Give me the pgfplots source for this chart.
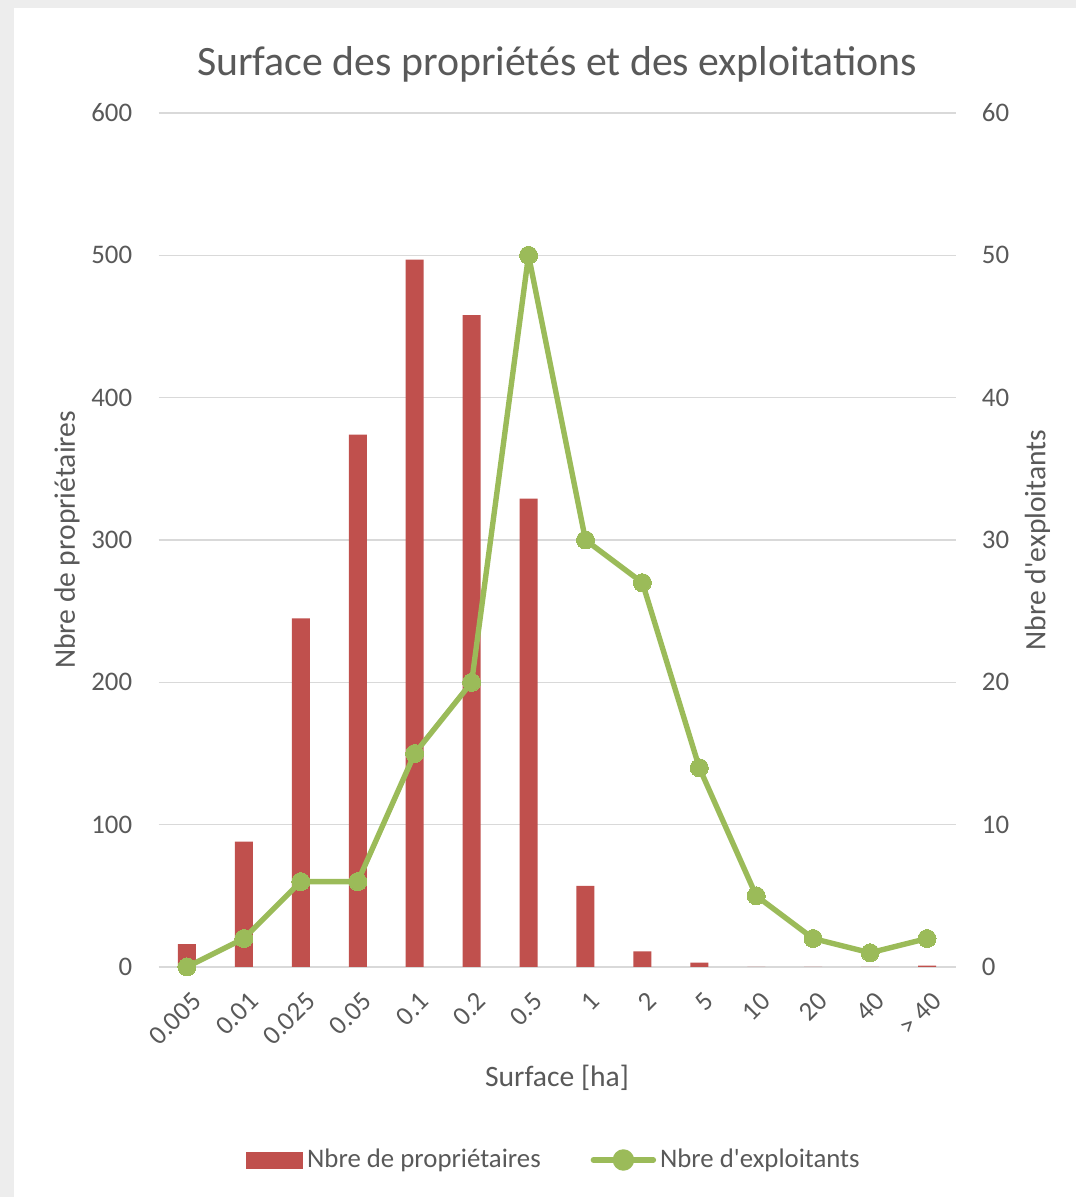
\documentclass[border=0pt]{standalone}
\usepackage{pgfplots}
\pgfplotsset{compat=1.18}
\usepackage{fontspec}
\setmainfont{Carlito}
\definecolor{barred}{HTML}{C0504D}
\definecolor{lgreen}{HTML}{9BBB59}
\definecolor{txt}{HTML}{595959}
\definecolor{gridc}{HTML}{D9D9D9}
\begin{document}
\begin{tikzpicture}
\fill[black!7] (0pt,0pt) rectangle (538pt,598.5pt);
\fill[white] (7pt,0pt) rectangle (538pt,594.5pt);
\path[use as bounding box] (0pt,0pt) rectangle (538pt,598.5pt);
\begin{axis}[
  at={(79.25pt,115pt)}, anchor=south west,
  scale only axis, width=398.5pt, height=427pt,
  xmin=-0.5, xmax=13.5, ymin=0, ymax=600,
  ytick={0,100,...,600},
  xtick={0,...,13},
  xticklabels={0.005,0.01,0.025,0.05,0.1,0.2,0.5,1,2,5,10,20,40,> 40},
  axis line style={draw=none},
  major tick length=0pt,
  ymajorgrids, grid style={gridc, line width=0.8pt},
  /pgf/number format/assume math mode=true,
  tick label style={text=txt, font=\fontsize{13.4}{16}\selectfont},
  yticklabel style={inner sep=0pt, anchor=east, xshift=-13pt},
  xticklabel style={inner sep=0pt, rotate=45, anchor=north east, xshift=-7pt, yshift=-9.5pt},
  title={Surface des propriétés et des exploitations},
  title style={at={(axis description cs:0.5,1.0433)}, anchor=center, text=txt, font=\fontsize{20.9}{24}\selectfont},
  xlabel={Surface [ha]},
  xlabel style={at={(axis description cs:0.5,-0.13)}, anchor=center, text=txt, font=\fontsize{14.8}{17}\selectfont},
  ylabel={Nbre de propriétaires},
  ylabel style={at={(axis description cs:-0.1148,0.5)}, anchor=center, rotate=0, text=txt, font=\fontsize{14.8}{17}\selectfont},
]
\addplot[ybar, bar width=9pt, fill=barred, draw=none] coordinates {
 (0,16) (1,88) (2,245) (3,374) (4,497) (5,458) (6,329) (7,57) (8,11) (9,3) (10,0) (11,0) (12,0) (13,1)};
\end{axis}
\begin{axis}[
  at={(79.25pt,115pt)}, anchor=south west,
  scale only axis, width=398.5pt, height=427pt,
  xmin=-0.5, xmax=13.5, ymin=0, ymax=60,
  ytick={0,10,...,60},
  xtick=\empty,
  axis y line*=right, axis x line=none,
  axis line style={draw=none},
  major tick length=0pt,
  clip=false,
  /pgf/number format/assume math mode=true,
  tick label style={text=txt, font=\fontsize{13.4}{16}\selectfont},
  yticklabel style={inner sep=0pt, anchor=west, xshift=13pt},
  ylabel={Nbre d\textquotesingle exploitants},
  ylabel style={at={(axis description cs:1.1029,0.5)}, anchor=center, rotate=0, text=txt, font=\fontsize{14.8}{17}\selectfont},
  legend columns=2,
  legend style={at={(axis description cs:0.4975,-0.226)}, anchor=center, draw=none, fill=none,
    font=\fontsize{13.4}{16}\selectfont, text=txt,
    /tikz/every even column/.append style={column sep=23pt}},
]
\addlegendimage{legend image code/.code={\fill[barred] (0pt,-4pt) rectangle (28pt,4pt);}}
\addlegendentry{Nbre de propriétaires}
\addplot[lgreen, line width=2.7pt, line join=round, line cap=round, mark=*, mark size=4.5pt, mark options={fill=lgreen, draw=lgreen, line width=0pt},
  legend image code/.code={\draw[lgreen, line width=2.7pt] (0pt,0pt) -- (30pt,0pt); \fill[lgreen] (15pt,0pt) circle (4pt);}]
 coordinates {(0,0) (1,2) (2,6) (3,6) (4,15) (5,20) (6,50) (7,30) (8,27) (9,14) (10,5) (11,2) (12,1) (13,2)};
\addlegendentry{Nbre d\textquotesingle exploitants}
\end{axis}
\end{tikzpicture}
\end{document}
